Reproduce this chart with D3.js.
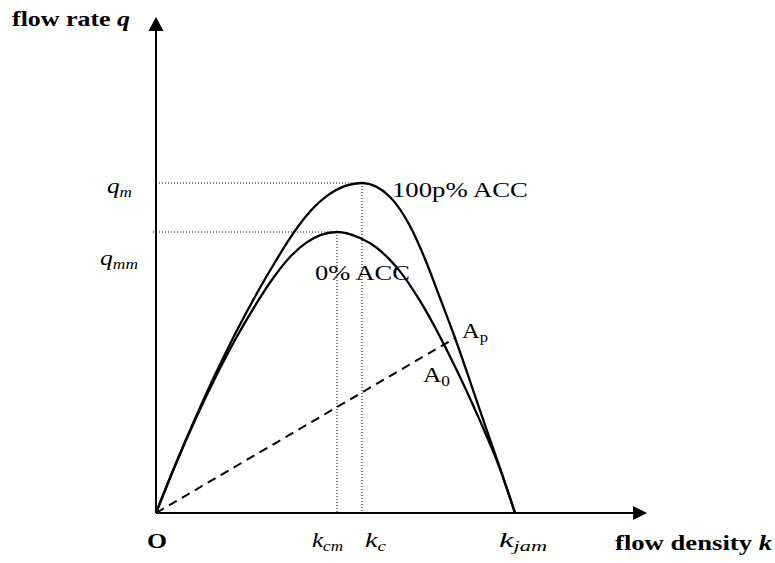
<!DOCTYPE html>
<html>
<head>
<meta charset="utf-8">
<script src="https://cdn.jsdelivr.net/npm/d3@7"></script>
<style>
  html, body { margin: 0; padding: 0; background: #fff; }
  svg { display: block; }
  text { font-family: "Liberation Serif", "Times New Roman", serif; fill: #000; }
</style>
</head>
<body>
<svg id="chart" width="775" height="563"></svg>
<script>
// Fundamental diagram: flow rate q versus density k, for 0% and 100p% ACC traffic.
// Axis extent (arbitrary units along each axis)
const kAxisMax = 100;
const qAxisMax = 100;

// 100p% ACC curve
const kAcc100 = [0, 4.07, 8.15, 12.22, 16.29, 20.37, 24.44, 27.29, 30.55, 34.62, 38.70, 41.96,
                 47.66, 51.73, 54.79, 57.84, 60.90, 63.95, 67.01, 70.06, 73.12];
const qAcc100 = [0, 10.04, 19.48, 28.27, 36.45, 43.99, 50.91, 55.44, 59.84, 63.77, 65.99, 66.53,
                 63.71, 57.86, 51.21, 43.35, 35.28, 26.61, 17.74, 9.07, 0];

// 0% ACC curve
const kAcc0 = [0, 4.07, 8.15, 12.22, 16.29, 20.37, 23.83, 27.29, 30.55, 33.60, 36.86,
               41.55, 45.01, 47.25, 49.69, 53.77, 59.88, 65.99, 70.06, 73.12];
const qAcc0 = [0, 9.98, 19.17, 27.58, 35.24, 42.10, 47.32, 51.61, 54.46, 56.07, 56.65,
               55.44, 53.43, 51.43, 48.71, 42.76, 31.57, 18.57, 8.89, 0];

// Characteristic values
const kc = 41.96, qm = 66.53;    // capacity point, 100p% ACC
const kcm = 36.86, qmm = 56.65;  // capacity point, 0% ACC
const kjam = 73.12;              // jam density
const pointAp = [60.90, 35.28];  // state A_p on the 100p% ACC curve

const svg = d3.select("#chart");
const x = d3.scaleLinear().domain([0, kAxisMax]).range([156, 647]);
const y = d3.scaleLinear().domain([0, qAxisMax]).range([513, 17]);

// Guide lines (dotted) to the two capacity points
const guides = [
  [[0, qm], [kc, qm]], [[kc, qm], [kc, 0]],
  [[-0.6, qmm], [kcm, qmm]], [[kcm, qmm], [kcm, 0]]
];
const lineGen = d3.line().x(d => x(d[0])).y(d => y(d[1]));
svg.append("g").selectAll("path").data(guides).join("path")
  .attr("d", lineGen)
  .attr("fill", "none").attr("stroke", "#000")
  .attr("stroke-width", 1).attr("stroke-dasharray", "1,2");

// Axes with arrow heads
const axisG = svg.append("g").attr("stroke", "#000").attr("stroke-width", 2);
axisG.append("line").attr("x1", x(0)).attr("y1", y(0)).attr("x2", x(0)).attr("y2", y(qAxisMax) + 12);
axisG.append("line").attr("x1", x(0)).attr("y1", y(0)).attr("x2", x(kAxisMax) - 13).attr("y2", y(0));
svg.append("path")
  .attr("d", `M${x(0)},${y(qAxisMax)} L${x(0) + 7.5},${y(qAxisMax) + 14} L${x(0) - 7.5},${y(qAxisMax) + 14} Z`)
  .attr("fill", "#000");
svg.append("path")
  .attr("d", `M${x(kAxisMax)},${y(0)} L${x(kAxisMax) - 14},${y(0) - 7} L${x(kAxisMax) - 14},${y(0) + 7} Z`)
  .attr("fill", "#000");

// Dashed ray from origin to A_p
svg.append("path")
  .attr("d", lineGen([[0, 0], pointAp]))
  .attr("fill", "none").attr("stroke", "#000")
  .attr("stroke-width", 2).attr("stroke-dasharray", "9,6");

// q-k curves
const curveGen = d3.line().x(d => x(d[0])).y(d => y(d[1])).curve(d3.curveMonotoneX);
const curves = [d3.zip(kAcc100, qAcc100), d3.zip(kAcc0, qAcc0)];
svg.append("g").selectAll("path").data(curves).join("path")
  .attr("d", curveGen)
  .attr("fill", "none").attr("stroke", "#000")
  .attr("stroke-width", 2.3).attr("stroke-linejoin", "round");

// Text labels, each stretched horizontally to its set width
function label(px, py, size, width, parts) {
  const g = svg.append("g");
  const t = g.append("text").attr("x", 0).attr("y", 0).attr("font-size", size);
  parts.forEach(p => {
    const s = t.append("tspan").text(p.t);
    if (p.bold) s.attr("font-weight", "bold");
    if (p.italic) s.attr("font-style", "italic");
    if (p.sub) s.attr("font-size", size * 0.68).attr("dy", size * 0.2);
  });
  const w = t.node().getComputedTextLength();
  g.attr("transform", `translate(${px},${py}) scale(${width / w},1)`);
}

label(12, 26, 21, 118, [{t: "flow rate ", bold: true}, {t: "q", bold: true, italic: true}]);
label(615, 550, 22, 157, [{t: "flow density ", bold: true}, {t: "k", bold: true, italic: true}]);
label(x(0) - 9, 548, 22, 20, [{t: "O", bold: true}]);

label(107, 193, 22, 25, [{t: "q", italic: true}, {t: "m", italic: true, sub: true}]);
label(100, 265, 22, 38, [{t: "q", italic: true}, {t: "mm", italic: true, sub: true}]);

label(x(kcm) - 25, 547, 22, 31, [{t: "k", italic: true}, {t: "cm", italic: true, sub: true}]);
label(x(kc) + 3, 547, 22, 21, [{t: "k", italic: true}, {t: "c", italic: true, sub: true}]);
label(x(kjam) - 16, 547, 22, 48, [{t: "k", italic: true}, {t: "jam", italic: true, sub: true}]);

label(392, 197, 22, 136, [{t: "100p% ACC"}]);
label(315, 280, 22, 95, [{t: "0% ACC"}]);

label(x(pointAp[0]) + 7, 338, 22, 26, [{t: "A"}, {t: "p", sub: true}]);
label(423, 382, 22, 27, [{t: "A"}, {t: "0", sub: true}]);
</script>
</body>
</html>
